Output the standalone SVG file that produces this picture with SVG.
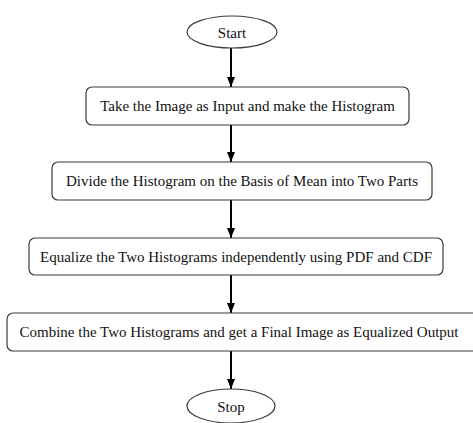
<svg xmlns="http://www.w3.org/2000/svg" width="473" height="423" viewBox="0 0 473 423">
<defs>
<marker id="ah" markerWidth="10" markerHeight="12" refX="10" refY="5" orient="auto" markerUnits="userSpaceOnUse">
<path d="M0,1 L10,5 L0,9 Z" fill="#000"/>
</marker>
<style>
.box{fill:#fff;stroke:#3a3a3a;stroke-width:1.2}
.t{font-family:"Liberation Serif","Times New Roman",serif;font-size:15px;fill:#111;text-anchor:middle;dominant-baseline:central}
.c{stroke:#000;stroke-width:2;fill:none;marker-end:url(#ah)}
</style>
</defs>
<rect width="473" height="423" fill="#fff"/>
<g id="connectors">
<line class="c" x1="231" y1="48" x2="231" y2="87"/>
<line class="c" x1="231" y1="125" x2="231" y2="162"/>
<line class="c" x1="231" y1="200" x2="231" y2="238"/>
<line class="c" x1="231" y1="275" x2="231" y2="313"/>
<line class="c" x1="231" y1="351" x2="231" y2="389"/>
</g>
<g id="start">
<ellipse class="box" cx="232" cy="32" rx="45" ry="16"/>
<text class="t" x="232" y="33">Start</text>
</g>
<g id="step1">
<rect class="box" x="86" y="87" width="323" height="38" rx="6"/>
<text class="t" x="247.5" y="106">Take the Image as Input and make the Histogram</text>
</g>
<g id="step2">
<rect class="box" x="52" y="162" width="380" height="38" rx="6"/>
<text class="t" x="242" y="181">Divide the Histogram on the Basis of Mean into Two Parts</text>
</g>
<g id="step3">
<rect class="box" x="29" y="238" width="414" height="37" rx="6"/>
<text class="t" x="236" y="256.5">Equalize the Two Histograms independently using PDF and CDF</text>
</g>
<g id="step4">
<rect class="box" x="7" y="313" width="475" height="38" rx="6"/>
<text class="t" x="239" y="332">Combine the Two Histograms and get a Final Image as Equalized Output</text>
</g>
<g id="stop">
<ellipse class="box" cx="231" cy="406" rx="44" ry="17"/>
<text class="t" x="231" y="407">Stop</text>
</g>
</svg>
